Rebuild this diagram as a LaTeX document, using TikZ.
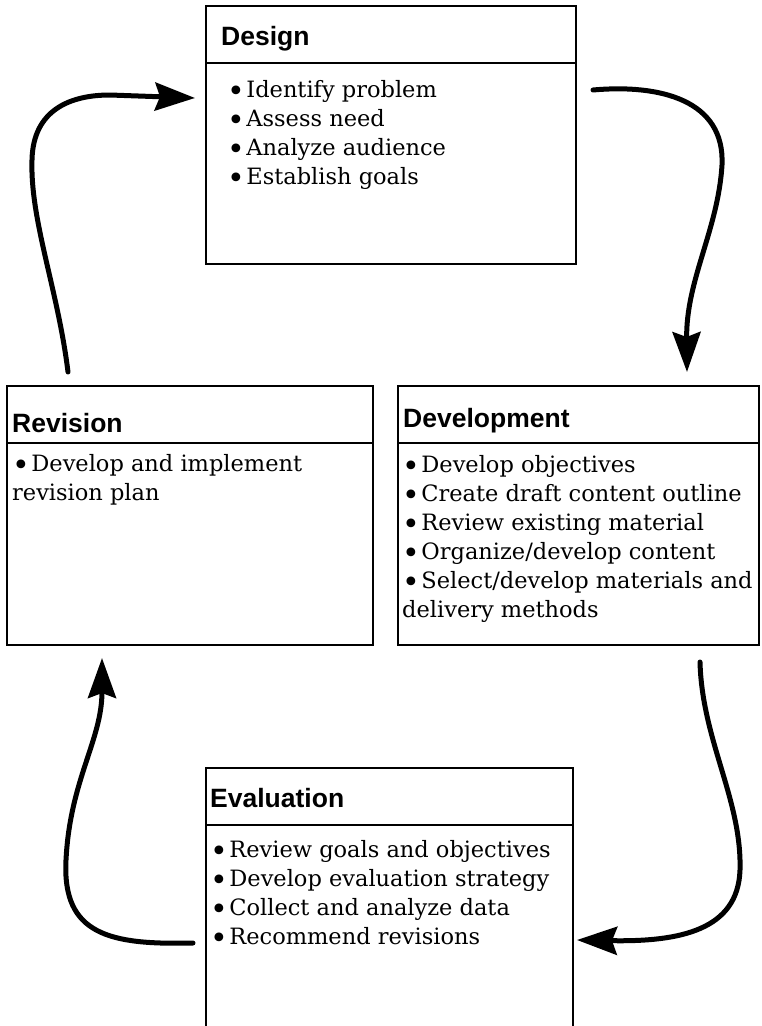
\documentclass[tikz,border=0pt]{standalone}
\usepackage{fontspec}
\setmainfont{DejaVu Serif}
\newfontfamily\headfont{Liberation Sans}
\usetikzlibrary{arrows.meta,calc}
\tikzset{
  stagebox/.style={draw, line width=1.8pt, anchor=north west, inner sep=0pt},
  headrule/.style={line width=1.5pt},
  head/.style={anchor=base west, inner sep=0pt, font=\headfont\bfseries\fontsize{26.5}{30}\selectfont},
  item/.style={anchor=base west, inner sep=0pt, font=\fontsize{22.5}{29}\selectfont},
  flow/.style={-{Stealth[length=40pt,width=28pt,inset=5pt]}, line width=5pt, line cap=round},
}
\newcommand{\bl}{\raisebox{-4.5pt}{\fontsize{30}{30}\selectfont\textbullet}\kern1.5pt}
% name, left, top, width, height, title indent, title baseline, title
\newcommand{\stage}[8]{%
  \node[stagebox, minimum width=#4pt, minimum height=#5pt] (#1) at (#2,#3) {};
  \draw[headrule] ([yshift=-58pt]#1.north west) -- ([yshift=-58pt]#1.north east);
  \node[head] (#1-title) at ([xshift=#6pt,yshift=-#7pt]#1.north west) {#8};}
% name, indent, first baseline, lines
\newcommand{\items}[4]{%
  \foreach \txt [count=\i] in {#4}
    \node[item] (#1-\i) at ([xshift=#2pt,yshift=-#3pt-29pt*(\i-1)]#1.north west) {\txt};}

\begin{document}
\begin{tikzpicture}[x=1pt,y=-1pt]
  \useasboundingbox (0,0) rectangle (762,1026);
  \clip (0,0) rectangle (762,1026);
  \stage{design}{205}{5}{370}{258}{16}{40}{Design}
  \items{design}{22}{92}{\bl Identify problem, \bl Assess need, \bl Analyze audience, \bl Establish goals}
  \stage{revision}{6}{385}{366}{259}{6}{47}{Revision}
  \items{revision}{6}{86}{\bl Develop and implement, revision plan}
  \stage{development}{397}{385}{361}{259}{6}{42}{Development}
  \items{development}{5}{87}{\bl Develop objectives, \bl Create draft content outline, \bl Review existing material, \bl Organize/develop content, \bl Select/develop materials and, delivery methods}
  \stage{evaluation}{205}{767}{367}{290}{5}{40}{Evaluation}
  \items{evaluation}{5}{90}{\bl Review goals and objectives, \bl Develop evaluation strategy, \bl Collect and analyze data, \bl Recommend revisions}
  % cycle arrows
  \coordinate (rev-out) at (68,372);
  \coordinate (des-in) at (195,98);
  \coordinate (des-out) at (593,90);
  \coordinate (dev-in) at (687,372);
  \coordinate (dev-out) at (700,662);
  \coordinate (eva-in) at (577,940);
  \coordinate (eva-out) at (193,943);
  \coordinate (rev-in) at (102,658);
  \draw[flow] (rev-out) .. controls (58,290) and (30,220) .. (32,160) .. controls (33,110) and (70,95) .. (110,95) -- (des-in);
  \draw[flow] (des-out) .. controls (660,84) and (725,100) .. (722,165) .. controls (718,230) and (686,280) .. (dev-in);
  \draw[flow] (dev-out) .. controls (702,740) and (742,800) .. (740,870) .. controls (738,930) and (680,942) .. (eva-in);
  \draw[flow] (eva-out) .. controls (110,945) and (62,935) .. (66,860) .. controls (70,780) and (102,740) .. (rev-in);
\end{tikzpicture}
\end{document}
